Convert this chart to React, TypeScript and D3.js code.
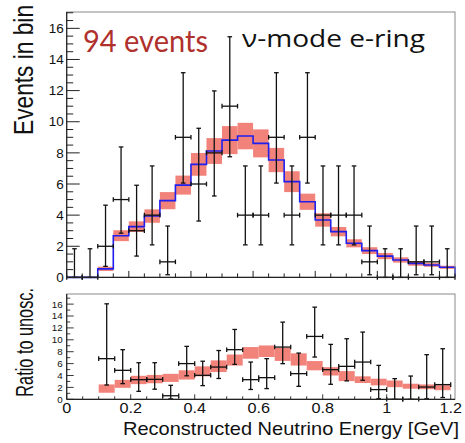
import React from "react";
import * as d3 from "d3";

const W = 465;
const H = 443;
const BIN = 0.05;

// top pad, 25 bins of 0.05 GeV from 0 to 1.25
const dataCounts = [0, 0, 2, 5, 3, 4, 1, 9, 6, 8, 11, 4, 4, 9, 4, 9, 4, 4, 4, 1, 0, 0, 1, 1, 0];
const dataLo = [0, 0, 0.71, 2.84, 1.37, 2.09, 0.17, 6.06, 3.62, 5.23, 7.75, 2.09, 2.09, 6.06, 2.09, 6.06, 2.09, 2.09, 2.09, 0.17, 0, 0, 0.17, 0.17, 0];
const dataHi = [1.84, 1.84, 4.64, 8.38, 5.92, 7.16, 3.3, 13.15, 9.58, 11.98, 15.46, 7.16, 7.16, 13.15, 7.16, 13.15, 7.16, 7.16, 7.16, 3.3, 1.84, 1.84, 3.3, 3.3, 1.84];
const mcPred = [0, 0, 0.55, 2.68, 3.26, 3.94, 4.93, 5.93, 7.26, 8.12, 8.82, 9.08, 8.61, 7.54, 6.15, 4.86, 3.69, 2.94, 2.19, 1.72, 1.37, 1.12, 0.9, 0.8, 0.65];
const mcErr = [0, 0, 0.14, 0.35, 0.34, 0.43, 0.55, 0.61, 0.73, 0.83, 0.9, 0.85, 0.9, 0.78, 0.67, 0.52, 0.43, 0.3, 0.26, 0.22, 0.2, 0.17, 0.15, 0.12, 0.1];

// bottom pad, ratio to unoscillated, bins 2..23 of 0-1.2 GeV
const ratioBins = [2, 3, 4, 5, 6, 7, 8, 9, 10, 11, 12, 13, 14, 15, 16, 17, 18, 19, 20, 21, 22, 23];
const ratioVal = [6.83, 4.87, 3.3, 3.35, 0.6, 6.0, 4.03, 5.42, 8.34, 3.3, 3.64, 8.78, 4.31, 10.57, 4.98, 5.54, 6.26, 1.63, 0, 0, 2.06, 2.47];
const ratioLo = [2.4, 2.63, 1.34, 1.7, 0.1, 3.95, 2.3, 3.5, 5.87, 1.65, 1.8, 5.99, 2.18, 7.1, 2.52, 3.1, 3.19, 0.12, 0, 0, 0.12, 0.3];
const ratioHi = [16.05, 8.34, 6.15, 6.15, 2.35, 8.9, 6.4, 8.2, 11.74, 6.26, 6.83, 12.97, 7.77, 15.49, 9.23, 10.18, 11.3, 5.7, 3.47, 3.91, 7.5, 8.5];
const bandMid = [1.8, 2.6, 3.25, 3.4, 3.6, 4.1, 4.7, 5.56, 6.6, 7.8, 8.08, 7.55, 6.7, 5.65, 4.7, 3.9, 3.3, 2.9, 2.6, 2.2, 2.1, 1.95];
const bandHalf = [0.7, 0.67, 0.7, 0.7, 0.68, 0.78, 0.84, 0.98, 0.93, 0.98, 0.97, 1.1, 1.03, 0.78, 0.7, 0.84, 0.56, 0.56, 0.56, 0.42, 0.4, 0.42];

const topYTicks = [0, 2, 4, 6, 8, 10, 12, 14, 16];
const botYTicks = [0, 2, 4, 6, 8, 10, 12, 14, 16];
const botXTicks = [0, 0.2, 0.4, 0.6, 0.8, 1, 1.2];

const BAND = "#f2837b";
const BLUE = "#1f1fee";
const FRAME = "#8a8a8a";
const SANS = "'Liberation Sans', Arial, sans-serif";

function Cross({ x0, x1, y, lo, hi }: { x0: number; x1: number; y: number; lo: number; hi: number }) {
  const xc = (x0 + x1) / 2;
  const c = 2.3;
  return (
    <g stroke="#111" strokeWidth={1.3} fill="none">
      <line x1={x0} x2={x1} y1={y} y2={y} />
      <line x1={x0} x2={x0} y1={y - c} y2={y + c} />
      <line x1={x1} x2={x1} y1={y - c} y2={y + c} />
      <line x1={xc} x2={xc} y1={lo} y2={hi} />
      <line x1={xc - c} x2={xc + c} y1={hi} y2={hi} />
      <line x1={xc - c} x2={xc + c} y1={lo} y2={lo} />
    </g>
  );
}

export default function App() {
  const xT = d3.scaleLinear().domain([0, 1.25]).range([66.7, 455]);
  const yT = d3.scaleLinear().domain([0, 17.05]).range([277.4, 12]);
  const xB = d3.scaleLinear().domain([0, 1.2]).range([66.7, 450.7]);
  const yB = d3.scaleLinear().domain([0, 17.7]).range([399.3, 294]);

  const nTop = mcPred.length;
  const stepPts: [number, number][] = [[0, 0]];
  mcPred.forEach((v, i) => stepPts.push([i * BIN, v]));
  stepPts.push([nTop * BIN, mcPred[nTop - 1]]);
  stepPts.push([nTop * BIN, 0]);
  const stepLine = d3
    .line<[number, number]>()
    .curve(d3.curveStepAfter)
    .x((d) => xT(d[0]))
    .y((d) => yT(d[1]));

  const topXMinor = d3.range(0, 1.2501, 0.05);
  const topYMinor = d3.range(0, 17.01, 0.5);
  const botXMinor = d3.range(0, 1.2001, 0.05);
  const botYMinor = d3.range(0, 17.5, 1);

  const topL = xT(0), topR = xT(1.25), topTop = yT.range()[1], topBot = yT(0);
  const botTop = yB.range()[1], botBot = yB(0);

  return (
    <svg width={W} height={H} style={{ position: "absolute", left: 0, top: 0, background: "#fff" }}>
      <rect width={W} height={H} fill="#fff" />

      {/* ---------- top pad ---------- */}
      {mcPred.map((v, i) =>
        mcErr[i] > 0 ? (
          <rect
            key={"b" + i}
            x={xT(i * BIN)}
            width={xT((i + 1) * BIN) - xT(i * BIN)}
            y={yT(v + mcErr[i])}
            height={yT(v - mcErr[i]) - yT(v + mcErr[i])}
            fill={BAND}
          />
        ) : null
      )}
      <path d={stepLine(stepPts) || ""} fill="none" stroke={BLUE} strokeWidth={1.6} />
      {dataCounts.map((n, i) => (
        <Cross
          key={"d" + i}
          x0={xT(i * BIN)}
          x1={xT((i + 1) * BIN)}
          y={yT(n)}
          lo={yT(dataLo[i])}
          hi={yT(dataHi[i])}
        />
      ))}

      <rect x={topL} y={topTop} width={topR - topL} height={topBot - topTop} fill="none" stroke={FRAME} strokeWidth={1} />
      <line x1={topL} x2={topL} y1={topTop} y2={topBot} stroke="#222" strokeWidth={1.2} />
      <line x1={topL} x2={topR} y1={topBot} y2={topBot} stroke="#222" strokeWidth={1.2} />
      {topYMinor.map((t) => {
        const major = Math.abs(t % 2) < 1e-6;
        return <line key={"ty" + t} x1={topL} x2={topL + (major ? 13 : 6.5)} y1={yT(t)} y2={yT(t)} stroke="#222" strokeWidth={1} />;
      })}
      {topXMinor.map((t) => {
        const major = Math.abs((t / 0.2) - Math.round(t / 0.2)) < 1e-6;
        return <line key={"tx" + t} x1={xT(t)} x2={xT(t)} y1={topBot} y2={topBot - (major ? 6.5 : 4)} stroke="#222" strokeWidth={1} />;
      })}
      {topYTicks.map((t) => (
        <text key={"tyl" + t} x={topL - 3} y={yT(t)} dy="0.35em" textAnchor="end" fontFamily={SANS} fontSize={13.5} fill="#111">
          {t}
        </text>
      ))}

      <text x={83} y={52} fontFamily="Lato, 'Open Sans', sans-serif" fontSize={31} fill="#b0302c" textLength={125} lengthAdjust="spacingAndGlyphs">
        94 events
      </text>
      <text x={242} y={47} fontFamily="'Open Sans', Lato, sans-serif" fontSize={24} fill="#111" textLength={183} lengthAdjust="spacingAndGlyphs">
        ν-mode e-ring
      </text>

      <text transform="translate(33,5) scale(1.2,1) rotate(-90)" textAnchor="end" fontFamily={SANS} fontSize={22.7} fill="#111">
        Events in bin
      </text>

      {/* ---------- bottom pad ---------- */}
      {ratioBins.map((b, k) => (
        <rect
          key={"rb" + b}
          x={xB(b * BIN)}
          width={xB((b + 1) * BIN) - xB(b * BIN)}
          y={yB(bandMid[k] + bandHalf[k])}
          height={yB(bandMid[k] - bandHalf[k]) - yB(bandMid[k] + bandHalf[k])}
          fill={BAND}
        />
      ))}
      {ratioBins.map((b, k) => (
        <Cross
          key={"rc" + b}
          x0={xB(b * BIN)}
          x1={xB((b + 1) * BIN)}
          y={yB(ratioVal[k])}
          lo={yB(ratioLo[k])}
          hi={yB(ratioHi[k])}
        />
      ))}

      <rect x={topL} y={botTop} width={topR - topL} height={botBot - botTop} fill="none" stroke={FRAME} strokeWidth={1} />
      <line x1={topL} x2={topL} y1={botTop} y2={botBot} stroke="#222" strokeWidth={1.2} />
      <line x1={topL} x2={topR} y1={botBot} y2={botBot} stroke="#222" strokeWidth={1.2} />
      {botYMinor.map((t) => {
        const major = t % 2 === 0;
        return <line key={"by" + t} x1={topL} x2={topL + (major ? 7 : 3.5)} y1={yB(t)} y2={yB(t)} stroke="#222" strokeWidth={0.9} />;
      })}
      {botXMinor.map((t) => {
        const major = Math.abs((t / 0.2) - Math.round(t / 0.2)) < 1e-6;
        return <line key={"bx" + t} x1={xB(t)} x2={xB(t)} y1={botBot} y2={botBot - (major ? 5 : 3)} stroke="#222" strokeWidth={0.9} />;
      })}
      {botYTicks.map((t) => (
        <text key={"byl" + t} x={topL - 4} y={yB(t)} dy="0.35em" textAnchor="end" fontFamily={SANS} fontSize={9.8} fill="#111">
          {t}
        </text>
      ))}
      {botXTicks.map((t) => (
        <text key={"bxl" + t} transform={`translate(${xB(t)},413) scale(1.12,1)`} textAnchor="middle" fontFamily={SANS} fontSize={14.5} fill="#111">
          {t}
        </text>
      ))}

      <text transform="translate(33,288) scale(1.42,1) rotate(-90)" textAnchor="end" fontFamily={SANS} fontSize={16.3} fill="#111">
        Ratio to unosc.
      </text>
      <text x={459} y={435} textAnchor="end" fontFamily={SANS} fontSize={19} fill="#111" textLength={336} lengthAdjust="spacingAndGlyphs">
        Reconstructed Neutrino Energy [GeV]
      </text>
    </svg>
  );
}
